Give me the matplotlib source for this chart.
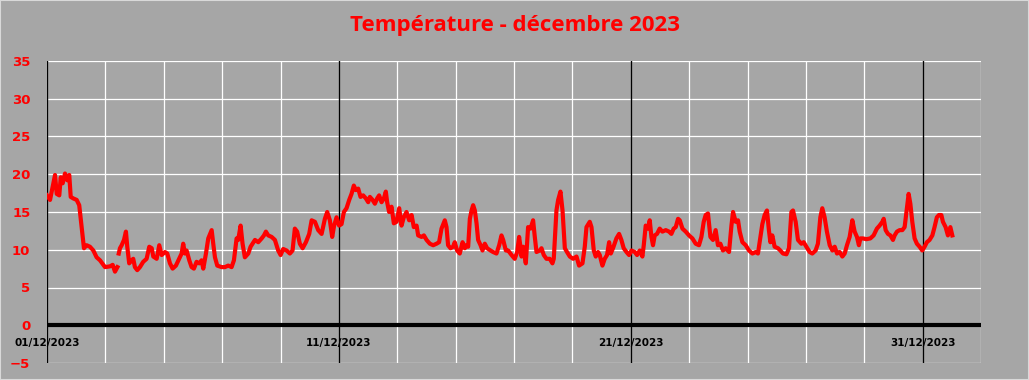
# -*- coding: utf-8 -*-

import numpy as np
import matplotlib
matplotlib.use('Agg')
import matplotlib.pyplot as plt
from matplotlib.patches import Rectangle

# hours since 01/12/2023 00:00 and temperature (°C); None = missing reading
hours = [0, 2.5, 5.2, 6.6, 8.0, 10.1, 11.3, 12.9, 14.8, 16.7, 18.3, 19.5, 21.6, 24.4, 26.5,
         28.5, 30.4, 32.6, 35.3, 38.1, 40.8, 43.6, 47.7, 51.8, 54.0, 55.9, 57.9, 58.4,
         59.0, 60.0, 61.4, 63.3, 64.9, 66.0, 67.6, 69.6, 70.9, 72.3, 74.2, 76.4, 79.1,
         81.9, 84.1, 86.1, 87.4, 90.2, 92.3, 94.3, 97.0, 98.9, 101.1, 103.3, 106.0,
         108.7, 110.7, 112.0, 113.4, 114.8, 117.0, 118.9, 120.8, 123.0, 125.2, 127.1,
         128.5, 130.7, 132.6, 135.4, 136.7, 138.1, 140.0, 143.6, 146.3, 149.0, 151.8,
         153.7, 155.9, 157.2, 159.2, 160.8, 162.7, 165.5, 167.4, 171.0, 173.7, 176.5,
         178.4, 180.0, 181.9, 184.7, 187.4, 190.1, 192.1, 194.2, 197.0, 199.7, 201.9,
         203.8, 205.7, 207.9, 210.2, 212.9, 215.6, 217.6, 220.3, 223.0, 225.8, 228.5,
         230.4, 232.6, 234.5, 236.1, 238.1, 240.2, 242.2, 244.1, 246.3, 248.5, 250.4,
         252.3, 254.0, 255.9, 257.8, 260.0, 262.2, 264.1, 265.5, 267.7, 269.6, 271.5,
         273.1, 275.1, 277.0, 278.6, 279.7, 281.3, 283.3, 285.2, 287.4, 289.6, 291.5,
         293.4, 295.6, 297.8, 299.8, 301.6, 303.9, 305.2, 308.0, 309.9, 312.1, 314.8,
         317.5, 320.3, 322.4, 324.4, 327.1, 328.5, 329.8, 331.8, 333.9, 335.3, 337.2,
         339.4, 341.7, 343.6, 344.9, 346.3, 347.7, 349.1, 350.4, 351.8, 353.2, 354.5,
         356.5, 358.1, 360.0, 361.9, 364.7, 366.8, 369.6, 371.8, 373.7, 375.1, 377.3,
         379.2, 382.0, 384.6, 386.6, 388.2, 389.3, 390.2, 391.5, 393.7, 395.6, 397.6,
         399.7, 401.1, 402.5, 405.2, 406.6, 408.5, 410.7, 413.4, 415.6, 416.7, 418.9,
         420.3, 422.2, 423.9, 425.8, 427.6, 429.9, 432.6, 435.4, 437.5, 440.3, 442.2,
         443.6, 446.3, 447.7, 449.6, 451.2, 453.1, 454.5, 456.7, 458.6, 460.5, 462.2,
         463.6, 465.4, 468.2, 470.4, 472.3, 474.2, 476.5, 478.6, 480.6, 483.3, 485.2,
         487.4, 489.6, 490.7, 492.3, 494.2, 495.6, 497.0, 498.3, 499.7, 501.6, 503.8,
         506.0, 508.8, 511.5, 513.4, 515.3, 517.0, 518.9, 520.3, 522.5, 525.2, 527.9,
         530.7, 533.4, 536.1, 538.1, 540.0, 541.6, 543.5, 545.5, 547.6, 549.8, 551.7,
         553.7, 555.8, 558.1, 560.8, 562.8, 564.1, 566.3, 568.2, 569.6, 571.8, 574.5,
         577.2, 580.0, 582.8, 584.6, 586.6, 588.2, 590.1, 592.0, 593.6, 594.8, 596.4,
         598.3, 601.1, 603.0, 605.2, 608.0, 610.1, 612.1, 613.4, 615.6, 617.5, 620.3,
         622.2, 624.4, 627.1, 629.3, 632.0, 633.9, 635.9, 637.5, 639.4, 641.3, 643.6,
         645.8, 647.7, 649.6, 651.8, 654.0, 655.9, 657.8, 660.0, 662.2, 664.1, 666.0,
         667.6, 668.8, 670.9, 673.7, 677.0, 679.7, 682.4, 684.6, 686.9, 688.0, 689.6,
         691.5, 693.5, 695.6, 697.0, 698.9, 701.1, 703.3, 705.2, 707.1, 708.5, 709.9,
         711.5, 713.4, 715.3, 717.5, 719.7, 721.6, 723.5, 725.7, 728.0, 729.8, 731.7,
         733.4, 735.4, 736.7, 738.9, 740.8, 742.8, 744.4]

temps = [17.2, 16.6, 18.8, 19.9, 17.4, 17.2, 19.6, 18.8, 20.1, 19.2, 19.9, 17.0, 16.8, 16.6, 15.9,
         13.0, 10.2, 10.6, 10.4, 9.9, 9.0, 8.6, 7.7, 7.8, 8.0, 7.1, 7.7, None,
         9.5, 10.2, 10.6, 11.3, 12.4, 10.4, 8.2, 8.6, 8.8, 7.7, 7.3, 7.7, 8.4,
         8.8, 10.4, 10.2, 9.1, 8.8, 10.6, 9.3, 9.7, 9.5, 8.2, 7.5, 7.9,
         8.8, 9.5, 10.8, 9.5, 9.9, 8.6, 7.7, 7.5, 8.4, 8.2, 8.6,
         7.5, 9.5, 11.5, 12.6, 10.8, 9.0, 7.9, 7.7, 7.7, 7.9, 7.7,
         8.6, 11.5, 11.3, 13.2, 10.8, 9.0, 9.5, 10.4, 11.3, 11.0, 11.5,
         11.9, 12.4, 11.9, 11.7, 11.3, 9.9, 9.3, 10.1, 9.9, 9.5, 9.9,
         12.8, 12.4, 10.8, 10.2, 11.0, 12.1, 13.9, 13.7, 12.6, 12.1, 14.1,
         15.0, 13.9, 11.7, 13.2, 14.3, 13.2, 13.4, 15.0, 15.5, 16.6, 17.4,
         18.5, 17.9, 18.1, 17.0, 17.2, 16.8, 16.3, 17.0, 16.6, 16.1, 16.8,
         17.2, 16.3, 16.8, 17.7, 16.3, 15.0, 15.7, 13.5, 13.7, 15.5, 13.2,
         14.3, 15.0, 13.9, 14.6, 13.0, 13.2, 11.9, 11.7, 11.9, 11.3, 10.8,
         10.6, 10.8, 11.0, 12.8, 13.9, 13.0, 10.6, 10.2, 10.4, 11.0, 9.9,
         9.5, 11.0, 10.2, 10.6, 10.4, 14.1, 15.2, 15.9, 15.2, 13.5, 11.3,
         10.6, 9.9, 10.8, 10.2, 9.9, 9.7, 9.5, 10.6, 11.9, 11.3, 9.9,
         9.9, 9.3, 8.8, 9.7, 11.7, 10.4, 9.1, 10.4, 8.2, 13.0, 12.8,
         13.9, 11.7, 9.7, 9.9, 10.2, 9.3, 8.8, 8.8, 8.2, 8.8, 15.2,
         16.6, 17.7, 15.2, 10.2, 9.7, 9.1, 8.8, 9.1, 7.9, 8.2, 10.4,
         13.0, 13.7, 13.0, 9.9, 9.1, 9.7, 9.3, 7.9, 8.8, 9.3, 11.0,
         9.5, 10.2, 11.5, 12.1, 11.3, 10.2, 9.7, 9.3, 9.9, 9.7, 9.3,
         9.9, 9.1, 10.6, 13.2, 12.8, 13.9, 11.7, 10.6, 11.9, 12.1, 12.8,
         12.4, 12.6, 12.4, 12.1, 12.8, 13.0, 14.1, 13.9, 12.8, 12.4, 11.9,
         11.5, 10.8, 10.6, 11.7, 13.7, 14.6, 14.8, 11.7, 11.3, 12.6, 10.6,
         10.8, 9.9, 10.2, 9.7, 13.2, 15.0, 13.7, 13.9, 12.4, 11.0, 10.6,
         9.9, 9.5, 9.7, 9.5, 11.7, 13.4, 14.6, 15.2, 12.6, 11.0, 11.9,
         10.4, 10.2, 9.9, 9.5, 9.4, 10.2, 15.0, 15.2, 13.7, 11.3, 10.8,
         11.0, 10.4, 9.7, 9.5, 9.9, 10.8, 14.3, 15.5, 14.3, 12.4, 10.6,
         9.9, 10.4, 9.5, 9.7, 9.1, 9.5, 10.6, 11.7, 13.9, 12.4, 11.7,
         10.6, 11.5, 11.5, 11.4, 11.5, 11.9, 12.8, 13.2, 13.7, 14.1, 12.6,
         12.1, 11.9, 11.3, 11.9, 12.4, 12.6, 12.6, 13.0, 15.5, 17.4, 16.1,
         13.7, 11.5, 10.8, 10.4, 9.9, 10.4, 11.0, 11.3, 11.9, 13.0, 14.3,
         14.6, 14.6, 13.7, 13.0, 11.9, 13.0, 11.9]

date_labels = ['01/12/2023', '11/12/2023', '21/12/2023', '31/12/2023']
date_hours = [0, 240, 480, 720]
y_ticks = list(range(-5, 40, 5))

bg = '#a6a6a6'
red = '#ff0000'

fig = plt.figure(figsize=(10.29, 3.80), dpi=100, facecolor=bg)
fig.patches.append(Rectangle((0, 0), 1, 1, transform=fig.transFigure, fill=False,
                             edgecolor='#d9d9d9', linewidth=1.5))
ax = fig.add_axes([47 / 1029, 17 / 380, 934 / 1029, 302 / 380])
ax.set_facecolor(bg)

ax.set_xlim(0, 768)
ax.set_ylim(-5, 35)
ax.set_xticks(np.arange(0, 769, 48))
ax.set_yticks(y_ticks)
ax.grid(True, color='white', linewidth=0.9, zorder=0)
ax.set_axisbelow(True)
ax.tick_params(axis='x', length=0, labelbottom=False)
ax.tick_params(axis='y', length=0, pad=12, labelcolor=red, labelsize=9.5)
for lab in ax.get_yticklabels():
    lab.set_fontweight('bold')
for s in ax.spines.values():
    s.set_visible(False)

for h in date_hours:
    ax.axvline(h, color='black', linewidth=1.0, zorder=1)
ax.axhline(0, color='black', linewidth=3, zorder=1)

t = np.array(hours, dtype=float)
v = np.array(temps, dtype=float)
ax.plot(t, v, color=red, linewidth=3, zorder=3)

for h, lab in zip(date_hours, date_labels):
    ax.text(h, -2.3, lab, ha='center', va='center', fontsize=7.5, fontweight='bold',
            color='black', zorder=4)

fig.text(0.5, 1 - 26 / 380, 'Température - décembre 2023', ha='center', va='center',
         fontsize=16, fontweight='bold', color=red, family=['Open Sans', 'DejaVu Sans'])

plt.savefig('out.png', dpi=100, facecolor=bg)
